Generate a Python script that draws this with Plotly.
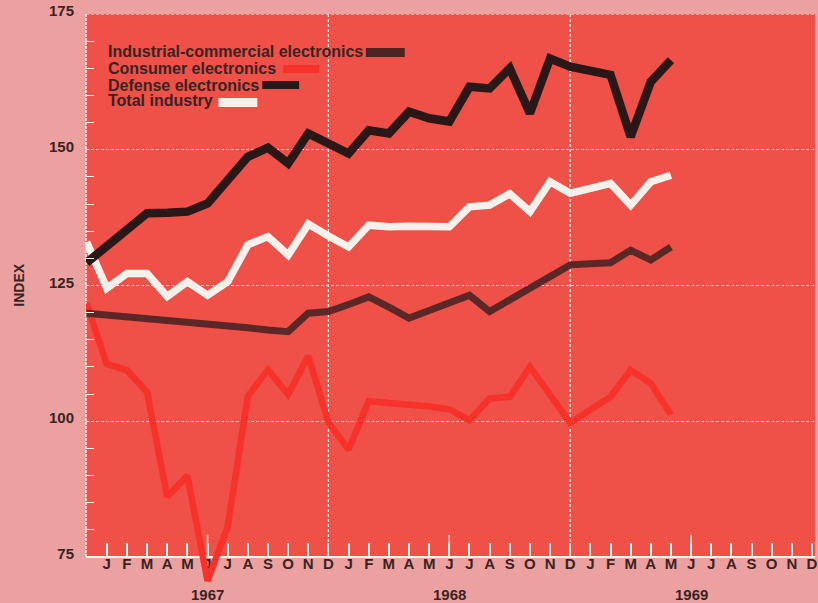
import plotly.graph_objects as go

# Month index: -1 = Dec 1966, 0 = Jan 1967 ... 28 = May 1969
month_idx = list(range(-1, 29))

industrial = [119.9, 119.6, 119.2, 118.9, 118.5, 118.2, 117.9, 117.5, 117.2, 116.8,
              116.5, 119.9, 120.2, 121.5, 122.9, 121.0, 119.0, 120.4, 121.8, 123.2,
              120.2, 122.4, 124.6, 126.7, 128.8, 129.0, 129.2, 131.5, 129.7, 132.1]
consumer = [121.7, 110.5, 109.4, 105.4, 86.1, 90.0, 70.6, 80.6, 104.6, 109.5,
            104.9, 112.0, 99.8, 94.8, 103.7, 103.4, 103.0, 102.7, 102.2, 100.2,
            104.2, 104.5, 110.0, 104.9, 99.7, 102.1, 104.5, 109.4, 107.0, 101.2]
defense = [129.2, 132.2, 135.2, 138.3, 138.4, 138.6, 140.1, 144.4, 148.7, 150.4,
           147.5, 153.0, 151.0, 149.3, 153.6, 153.0, 157.0, 155.8, 155.2, 161.6,
           161.3, 165.0, 156.7, 166.8, 165.3, 164.5, 163.8, 152.4, 162.5, 166.5]
total = [133.0, 124.5, 127.2, 127.2, 123.0, 125.7, 123.2, 125.7, 132.5, 134.0,
         130.6, 136.3, 134.1, 132.1, 136.1, 135.8, 135.9, 136.0, 135.8, 139.5,
         139.8, 141.9, 138.6, 144.1, 142.0, 142.9, 143.8, 139.8, 144.1, 145.3]

tick_idx = list(range(0, 36))
tick_letters = list("JFMAMJJASOND") * 3
year_labels = ["1967", "1968", "1969"]
year_idx = [5, 17, 29]
june_idx = [5, 17, 29]
dec_idx = [11, 23]

PAGE = "#eba1a0"
FIELD = "#ef5047"
INK = "#3a2323"
WHITE = "#f7f1ec"
FONT = "Liberation Sans, Arial, sans-serif"

# drawing order: consumer at the bottom, defense on top
traces = [
    ("Consumer electronics", consumer, "#f7322a", 6.5),
    ("Industrial-commercial electronics", industrial, "#5b2727", 7),
    ("Total industry", total, WHITE, 7.5),
    ("Defense electronics", defense, "#2a1717", 8.5),
]

fig = go.Figure()
for name, vals, color, width in traces:
    fig.add_trace(go.Scatter(
        x=month_idx, y=vals, name=name, mode="lines",
        line=dict(color=color, width=width),
        hoverinfo="skip", showlegend=False,
    ))

Y_BOTTOM, Y_TOP = 68, 175
fig.update_layout(
    width=818, height=603,
    margin=dict(l=86, r=0, t=14, b=8),
    paper_bgcolor=PAGE, plot_bgcolor=PAGE,
    font=dict(family=FONT, color=INK),
    xaxis=dict(
        range=[-1.032, 35.15],
        tickmode="array", tickvals=tick_idx, ticktext=tick_letters,
        ticks="inside", ticklen=13, tickwidth=1.5, tickcolor=WHITE,
        showline=True, linecolor=WHITE, linewidth=2,
        showgrid=False, zeroline=False,
        anchor="free", position=(75 - Y_BOTTOM) / (Y_TOP - Y_BOTTOM),
        layer="below traces",
        tickfont=dict(family=FONT, size=15, color=INK, weight="bold"),
        ticklabelstandoff=-7, ticklabeloverflow="allow",
    ),
    yaxis=dict(
        range=[Y_BOTTOM, Y_TOP],
        tickmode="array", tickvals=[75, 100, 125, 150, 175],
        ticks="", showline=False, zeroline=False,
        showgrid=True, gridcolor="rgba(255,255,255,0.85)", gridwidth=1,
        griddash="3px,2px",
        minor=dict(tickmode="array",
                   tickvals=[v for v in range(80, 175, 5) if v % 25],
                   ticks="inside", ticklen=8, tickwidth=1.2, tickcolor=WHITE,
                   showgrid=False),
        tickfont=dict(family=FONT, size=15, color=INK, weight="bold"),
        ticklabelstandoff=11, ticklabelshift=-3,
    ),
)

shapes = [
    # red chart field
    dict(type="rect", xref="paper", yref="y", x0=0, x1=1, y0=75, y1=175,
         fillcolor=FIELD, line=dict(width=0), layer="below"),
    # top and left borders
    dict(type="line", xref="paper", yref="y", x0=0, x1=1, y0=175, y1=175,
         line=dict(color=WHITE, width=1.2, dash="3px,2px"), layer="between"),
    dict(type="line", xref="paper", yref="y", x0=0, x1=0, y0=75, y1=175,
         line=dict(color=WHITE, width=1.5, dash="3px,1px"), layer="between"),
]
for d in dec_idx:
    shapes.append(dict(type="line", xref="x", yref="y", x0=d, x1=d, y0=75, y1=175,
                       line=dict(color=WHITE, width=1.2, dash="3px,2px"),
                       layer="between"))
for j in june_idx:
    shapes.append(dict(type="line", xref="x", yref="y", x0=j, x1=j, y0=75, y1=79.1,
                       line=dict(color=WHITE, width=1.5), layer="between"))

# legend: label followed by a swatch
legend_rows = [
    ("Industrial-commercial electronics", "#4d2323", 0.9346, (0.3839, 0.4372), (0.9260, 0.9415)),
    ("Consumer electronics", "#f7322a", 0.9062, (0.2705, 0.3197), (0.8985, 0.9122)),
    ("Defense electronics", "#2a1717", 0.8761, (0.2418, 0.2923), (0.8709, 0.8847)),
    ("Total industry", WHITE, 0.8508, (0.1817, 0.2350), (0.8399, 0.8554)),
]
annotations = []
for label, color, ty, (sx0, sx1), (sy0, sy1) in legend_rows:
    annotations.append(dict(
        text=label, xref="paper", yref="paper", x=0.0275, y=ty,
        xanchor="left", yanchor="middle", showarrow=False,
        font=dict(family=FONT, size=16, color=INK, weight="bold"),
    ))
    shapes.append(dict(type="rect", xref="paper", yref="paper",
                       x0=sx0, x1=sx1, y0=sy0, y1=sy1,
                       fillcolor=color, line=dict(width=0), layer="above"))

for yl, xi in zip(year_labels, year_idx):
    annotations.append(dict(
        text=yl, xref="x", yref="paper", x=xi, y=0, yshift=1,
        xanchor="center", yanchor="middle", showarrow=False,
        font=dict(family=FONT, size=15, color=INK, weight="bold"),
    ))

annotations.append(dict(
    text="INDEX", xref="paper", yref="y", x=-0.093, y=125,
    xanchor="center", yanchor="middle", textangle=-90, showarrow=False,
    font=dict(family=FONT, size=14, color=INK, weight="bold"),
))

fig.update_layout(shapes=shapes, annotations=annotations)
fig.write_html("out.html")
